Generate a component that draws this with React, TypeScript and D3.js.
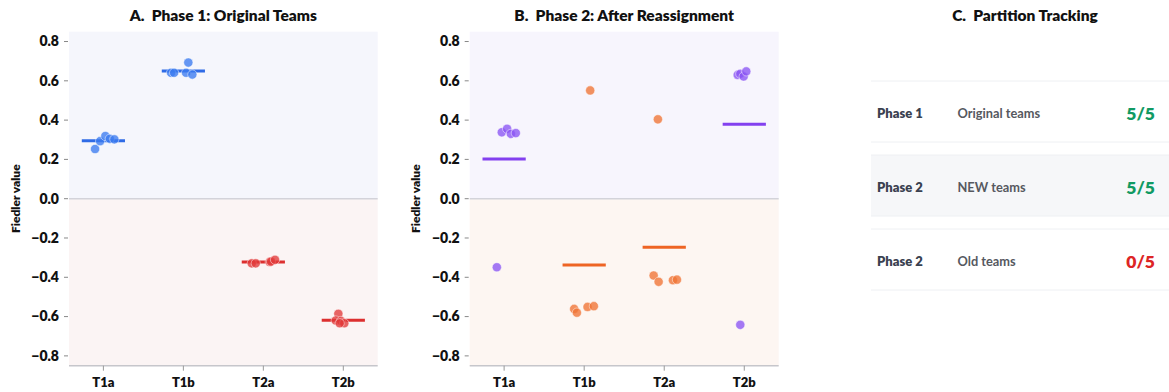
import React from 'react';
import * as d3 from 'd3';

const categories = ['T1a', 'T1b', 'T2a', 'T2b'];
const yTicks = [-0.8, -0.6, -0.4, -0.2, 0.0, 0.2, 0.4, 0.6, 0.8];

// Phase 1 Fiedler values per original team
const phase1Values: number[][] = [
  [0.253, 0.293, 0.319, 0.305, 0.302],
  [0.641, 0.641, 0.641, 0.693, 0.632],
  [-0.329, -0.329, -0.322, -0.32, -0.311],
  [-0.586, -0.62, -0.622, -0.634, -0.634],
];
// horizontal jitter (fraction of category step)
const phase1Jitter: number[][] = [
  [-0.104, -0.041, 0.025, 0.08, 0.137],
  [-0.154, -0.116, 0.034, 0.062, 0.112],
  [-0.145, -0.095, 0.08, 0.096, 0.146],
  [-0.062, -0.095, -0.029, 0.012, -0.045],
];

// Phase 2 Fiedler values per original team
const phase2Values: number[][] = [
  [0.338, 0.356, 0.33, 0.334, -0.349],
  [0.551, -0.561, -0.58, -0.551, -0.547],
  [0.404, -0.391, -0.423, -0.415, -0.412],
  [0.63, 0.636, 0.622, 0.648, -0.642],
];
const phase2Jitter: number[][] = [
  [-0.029, 0.037, 0.084, 0.146, -0.091],
  [0.075, -0.125, -0.091, 0.042, 0.121],
  [-0.079, -0.132, -0.07, 0.109, 0.159],
  [-0.082, -0.05, -0.008, 0.025, -0.05],
];

const phase1Colors = ['#3b7bef', '#3b7bef', '#e23a3a', '#e23a3a'];
const phase1LineColors = ['#2f6be6', '#2f6be6', '#dc2f2f', '#dc2f2f'];
const phase2Colors = ['#8b55f3', '#ef7335', '#ef7335', '#8b55f3'];
const phase2LineColors = ['#8340ef', '#ee6424', '#ee6424', '#8340ef'];

const trackingPhase = ['Phase 1', 'Phase 2', 'Phase 2'];
const trackingLabel = ['Original teams', 'NEW teams', 'Old teams'];
const trackingScore = ['5/5', '5/5', '0/5'];
const trackingOk = [true, true, false];

const FONT = "Lato, 'Open Sans', sans-serif";

type PanelProps = {
  left: number;
  right: number;
  title: string;
  values: number[][];
  jitter: number[][];
  colors: string[];
  lineColors: string[];
  bgTop: string;
  bgBottom: string;
};

function Panel({ left, right, title, values, jitter, colors, lineColors, bgTop, bgBottom }: PanelProps) {
  const top = 31.7;
  const bottom = 365.7;
  const x = d3.scalePoint<string>().domain(categories).range([left, right]).padding(0.43);
  const y = d3.scaleLinear().domain([-0.85, 0.85]).range([bottom, top]);
  const step = x.step();
  const cx = (left + right) / 2;
  return (
    <g>
      <text
        x={cx}
        y={21}
        textAnchor="middle"
        fontFamily={FONT}
        fontWeight={800}
        fontSize={15.5}
        fill="#111"
        style={{ whiteSpace: 'pre' }}
      >
        {title}
      </text>
      <rect x={left} y={top} width={right - left} height={y(0) - top} fill={bgTop} />
      <rect x={left} y={y(0)} width={right - left} height={bottom - y(0)} fill={bgBottom} />
      <line x1={left} x2={right} y1={y(0)} y2={y(0)} stroke="#d3d3da" strokeWidth={1.5} />
      <line x1={left} x2={right} y1={bottom} y2={bottom} stroke="#c6c6cb" strokeWidth={1.5} />
      {yTicks.map((t) => (
        <g key={t}>
          <line x1={left - 5} x2={left - 1} y1={y(t)} y2={y(t)} stroke="#888" strokeWidth={1} />
          <text
            x={left - 10}
            y={y(t)}
            dy="0.35em"
            textAnchor="end"
            fontFamily={FONT}
            fontWeight={800}
            fontSize={14}
            fill="#111"
          >
            {d3.format('.1f')(t).replace('-', '\u2212')}
          </text>
        </g>
      ))}
      {categories.map((c) => (
        <g key={c}>
          <line x1={x(c)} x2={x(c)} y1={bottom} y2={bottom + 5} stroke="#999" strokeWidth={1} />
          <text x={x(c)} y={bottom + 17} dy="0.35em" textAnchor="middle" fontFamily={FONT} fontWeight={800} fontSize={13} fill="#111">
            {c}
          </text>
        </g>
      ))}
      <text
        transform={`translate(${left - 53.5},${y(0)}) rotate(-90)`}
        textAnchor="middle"
        dy="0.35em"
        fontFamily={FONT}
        fontWeight={800}
        fontSize={12}
        fill="#111"
      >
        Fiedler value
      </text>
      {categories.map((c, i) => {
        const m = d3.mean(values[i]) as number;
        return (
          <line
            key={'m' + c}
            x1={(x(c) as number) - step * 0.27}
            x2={(x(c) as number) + step * 0.27}
            y1={y(m)}
            y2={y(m)}
            stroke={lineColors[i]}
            strokeWidth={3}
          />
        );
      })}
      {categories.map((c, i) =>
        values[i].map((v, j) => (
          <circle
            key={c + j}
            cx={(x(c) as number) + jitter[i][j] * step}
            cy={y(v)}
            r={4.6}
            fill={colors[i]}
            fillOpacity={0.78}
            stroke="#fff"
            strokeOpacity={0.6}
            strokeWidth={0.8}
          />
        ))
      )}
    </g>
  );
}

function Tracking() {
  const left = 871;
  const right = 1169;
  const rowTops = [81, 155, 229];
  const rowH = 61;
  return (
    <g>
      <text
        x={1025}
        y={21}
        textAnchor="middle"
        fontFamily={FONT}
        fontWeight={800}
        fontSize={15.5}
        fill="#111"
        style={{ whiteSpace: 'pre' }}
      >
        {'C.  Partition Tracking'}
      </text>
      {trackingPhase.map((p, i) => {
        const t = rowTops[i];
        const mid = t + rowH / 2 + 2;
        return (
          <g key={i}>
            {i === 1 && <rect x={left} y={t} width={right - left} height={rowH} fill="#f6f7f9" />}
            <line x1={left} x2={right} y1={t} y2={t} stroke="#eef0f3" strokeWidth={1} />
            <line x1={left} x2={right} y1={t + rowH} y2={t + rowH} stroke="#eef0f3" strokeWidth={1} />
            <text x={877} y={mid} dy="0.35em" fontFamily={FONT} fontWeight={800} fontSize={13} fill="#3a4150">
              {p}
            </text>
            <text x={957.5} y={mid} dy="0.35em" fontFamily={FONT} fontWeight={700} fontSize={12.8} fill="#56595f">
              {trackingLabel[i]}
            </text>
            <text
              x={1155}
              y={mid}
              dy="0.35em"
              textAnchor="end"
              fontFamily={FONT}
              fontWeight={800}
              fontSize={17.5}
              fill={trackingOk[i] ? '#119a63' : '#dd2525'}
            >
              {trackingScore[i]}
            </text>
          </g>
        );
      })}
    </g>
  );
}

export default function App() {
  return (
    <svg
      width={1169}
      height={392}
      viewBox="0 0 1169 392"
      style={{ position: 'absolute', left: 0, top: 0, background: '#fff', display: 'block' }}
    >
      <rect x={0} y={0} width={1169} height={392} fill="#fff" />
      <Panel
        left={69}
        right={377.7}
        title="A.  Phase 1: Original Teams"
        values={phase1Values}
        jitter={phase1Jitter}
        colors={phase1Colors}
        lineColors={phase1LineColors}
        bgTop="#f5f6fc"
        bgBottom="#fbf4f4"
      />
      <Panel
        left={469.7}
        right={778.7}
        title="B.  Phase 2: After Reassignment"
        values={phase2Values}
        jitter={phase2Jitter}
        colors={phase2Colors}
        lineColors={phase2LineColors}
        bgTop="#f7f5fd"
        bgBottom="#fdf6f2"
      />
      <Tracking />
    </svg>
  );
}
